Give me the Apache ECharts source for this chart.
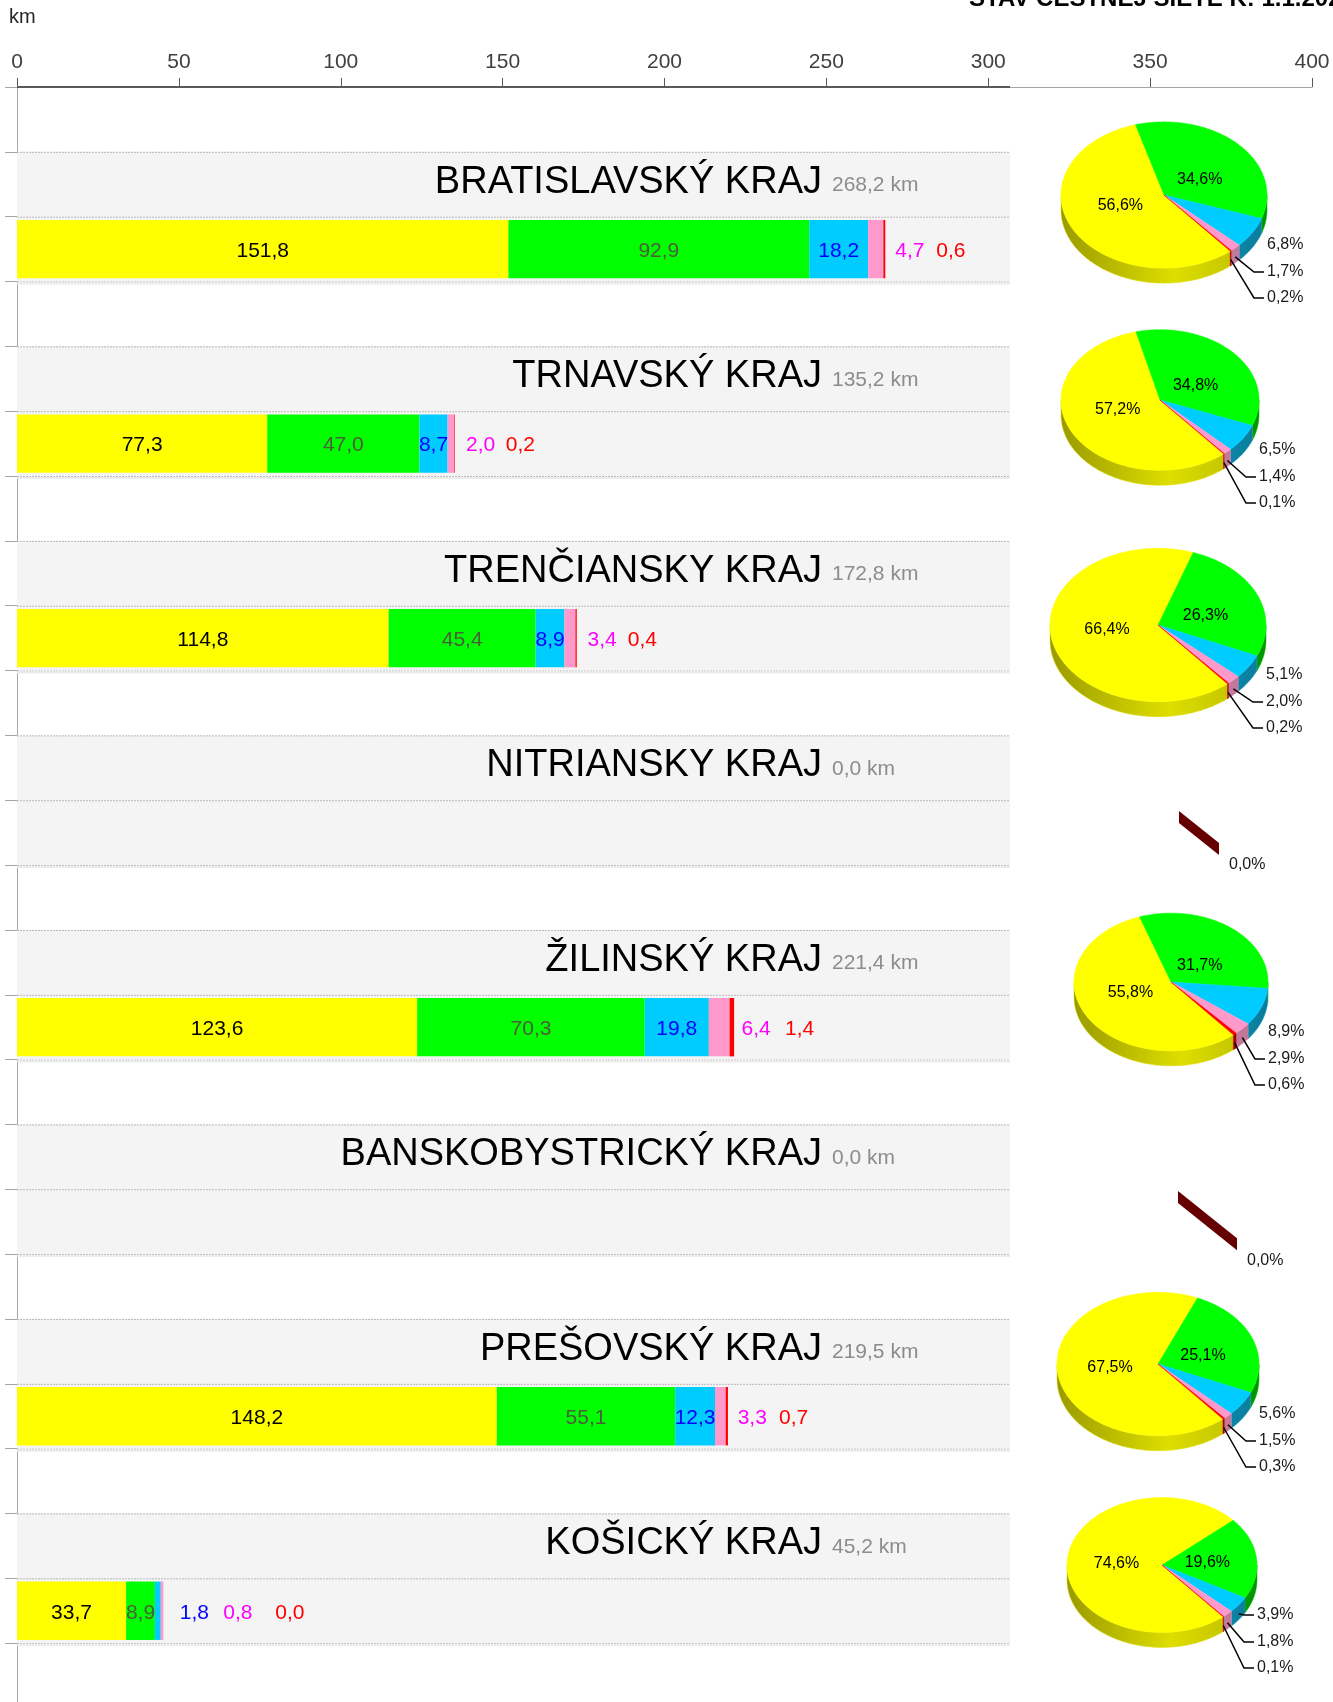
<!DOCTYPE html>
<html>
<head>
<meta charset="utf-8">
<title>Stav cestnej siete</title>
<script src="https://cdn.jsdelivr.net/npm/echarts@6/dist/echarts.min.js"></script>
<style>
html, body { margin: 0; padding: 0; background: #fff; }
#main { width: 1333px; height: 1702px; }
</style>
</head>
<body>
<div id="main"></div>
<script>
const FONT = "'Liberation Sans', Arial, sans-serif";

// --- data ---
const regions = ['BRATISLAVSKÝ KRAJ', 'TRNAVSKÝ KRAJ', 'TRENČIANSKY KRAJ', 'NITRIANSKY KRAJ',
  'ŽILINSKÝ KRAJ', 'BANSKOBYSTRICKÝ KRAJ', 'PREŠOVSKÝ KRAJ', 'KOŠICKÝ KRAJ'];
const totals = [268.2, 135.2, 172.8, 0.0, 221.4, 0.0, 219.5, 45.2];
const classes = ['výborný', 'dobrý', 'vyhovujúci', 'nevyhovujúci', 'havarijný'];

// km podla stavu
const vyborny      = [151.8, 77.3, 114.8, 0, 123.6, 0, 148.2, 33.7];
const dobry        = [92.9, 47.0, 45.4, 0, 70.3, 0, 55.1, 8.9];
const vyhovujuci   = [18.2, 8.7, 8.9, 0, 19.8, 0, 12.3, 1.8];
const nevyhovujuci = [4.7, 2.0, 3.4, 0, 6.4, 0, 3.3, 0.8];
const havarijny    = [0.6, 0.2, 0.4, 0, 1.4, 0, 0.7, 0.0];

// podiely v % (kolace)
const shareVyborny      = [56.6, 57.2, 66.4, 0, 55.8, 0, 67.5, 74.6];
const shareDobry        = [34.6, 34.8, 26.3, 0, 31.7, 0, 25.1, 19.6];
const shareVyhovujuci   = [6.8, 6.5, 5.1, 0, 8.9, 0, 5.6, 3.9];
const shareNevyhovujuci = [1.7, 1.4, 2.0, 0, 2.9, 0, 1.5, 1.8];
const shareHavarijny    = [0.2, 0.1, 0.2, 0, 0.6, 0, 0.3, 0.1];

const xTicks = [0, 50, 100, 150, 200, 250, 300, 350, 400];

// --- layout / styles ---
const barColors = ['#ffff00', '#00ff00', '#00ccff', '#ff99cc', '#ff0000'];
const labelColors = ['#000000', '#4d5d3a', '#0000ff', '#ff00ff', '#ff0000'];
const sideColors = [
  ['#9a9a00', '#dede00', '#b8b800'],
  ['#008400', '#00c400', '#009400'],
  ['#006a88', '#1296bb', '#0a7c9c'],
  ['#a05e7e', '#d88aae', '#b87090'],
  ['#7a0000', '#c00000', '#900000']
];
const pieBox = [[1164, 195, 103], [1160, 400, 99], [1158, 625, 108], [1179, 811, 40],
  [1171, 982, 97], [1178, 1191, 59], [1158, 1364, 101], [1162, 1565, 95]];
const PLOT_RIGHT = 1010;
const TITLE_RIGHT = 822;
const TILT = 0.71, DEPTH = 15, START = 50;
const SMALL_DY = [50, 77, 103];

const fmt = v => v.toFixed(1).replace('.', ',');
const classValues = [vyborny, dobry, vyhovujuci, nevyhovujuci, havarijny];
const classShares = [shareVyborny, shareDobry, shareVyhovujuci, shareNevyhovujuci, shareHavarijny];

// 3 riadky na kraj: medzera, nadpis, stlpec
const slots = [];
regions.forEach(r => { slots.push(r + ' ·'); slots.push(r); slots.push(r + ' km'); });
slots.push('·');

const bandData = [];
regions.forEach((r, i) => {
  bandData.push([0, i * 3 + 1, 0, i]);
  bandData.push([0, i * 3 + 2, 1, i]);
});

const barSeries = classValues.map((vals, k) => ({
  name: classes[k],
  type: 'bar',
  stack: 'km',
  barCategoryGap: '10%',
  z: 3,
  itemStyle: { color: barColors[k] },
  label: {
    show: true,
    position: k < 3 ? 'inside' : 'right',
    distance: k === 3 ? 12 : 51,
    offset: [0, 2],
    color: labelColors[k],
    fontSize: 21,
    fontFamily: FONT,
    formatter: p => fmt(p.value)
  },
  data: slots.map((s, idx) => {
    if (idx % 3 !== 2) return '-';
    const i = (idx - 2) / 3;
    const item = { value: vals[i] };
    if (totals[i] === 0) {
      item.label = { show: false };
    } else if (vyhovujuci[i] < 5 && k >= 2) {
      // uzky segment -> popisy mimo stlpca
      item.label = { position: 'right', distance: [19, 60, 112][k - 2] };
    }
    return item;
  })
}));

function arc(cx, cy, rx, ry, s, e) {
  const pts = [];
  const n = Math.max(1, Math.ceil(e - s));
  for (let t = 0; t <= n; t++) {
    const a = (s + (e - s) * t / n) * Math.PI / 180;
    pts.push([cx + rx * Math.cos(a), cy + ry * Math.sin(a)]);
  }
  return pts;
}

const pieSeries = {
  type: 'custom',
  coordinateSystem: 'none',
  silent: true,
  z: 5,
  data: regions.map((r, i) => [i]),
  renderItem(params, api) {
    const i = params.dataIndex;
    const [cx, cy, rx] = pieBox[i];
    const shares = classShares.map(a => a[i]);
    const sum = shares.reduce((s, v) => s + v, 0);
    const children = [];
    if (sum === 0) {
      const x1 = cx + rx, y1 = cy + rx * 0.8, t = 12;
      children.push({ type: 'polygon', shape: { points: [[cx, cy], [x1, y1], [x1, y1 + t], [cx, cy + t]] },
        style: { fill: '#660000' } });
      children.push({ type: 'text', style: { text: fmt(0) + '%', x: x1 + 10, y: y1 + 22,
        fill: '#1a1a1a', font: '16px ' + FONT, align: 'left', verticalAlign: 'middle' } });
      return { type: 'group', children };
    }
    const ry = rx * TILT;
    let a = START;
    const slices = shares.map((v, j) => { const s = a; a += v / sum * 360; return { j, s, e: a, m: (s + a) / 2 }; });
    // bocne steny
    slices.forEach(sl => {
      [[0, 180], [360, 540]].forEach(([lo, hi]) => {
        const s = Math.max(sl.s, lo), e = Math.min(sl.e, hi);
        if (e <= s) return;
        const top = arc(cx, cy, rx, ry, s, e);
        const bottom = top.map(p => [p[0], p[1] + DEPTH]).reverse();
        const sc = sideColors[sl.j];
        children.push({ type: 'polygon', shape: { points: top.concat(bottom) },
          style: { fill: { type: 'linear', x: cx - rx, y: 0, x2: cx + rx, y2: 0, global: true,
            colorStops: [{ offset: 0, color: sc[0] }, { offset: 0.55, color: sc[1] }, { offset: 1, color: sc[2] }] },
            stroke: sc[1], lineWidth: 0.5 } });
      });
    });
    // vrchne plochy
    slices.forEach(sl => {
      const pts = [[cx, cy]].concat(arc(cx, cy, rx, ry, sl.s, sl.e));
      children.push({ type: 'polygon', shape: { points: pts },
        style: { fill: barColors[sl.j], stroke: barColors[sl.j], lineWidth: 0.5 } });
    });
    // popisy
    slices.forEach(sl => {
      const txt = fmt(shares[sl.j]) + '%';
      const m = sl.m * Math.PI / 180;
      if (sl.j < 2) {
        children.push({ type: 'text', style: { text: txt,
          x: cx + 0.48 * rx * Math.cos(m), y: cy + 0.3 * ry * Math.sin(m),
          fill: '#000', font: '16px ' + FONT, align: 'center', verticalAlign: 'middle' } });
      } else {
        const tx = cx + rx, ty = cy + SMALL_DY[sl.j - 2];
        children.push({ type: 'text', style: { text: txt, x: tx, y: ty,
          fill: '#1a1a1a', font: '16px ' + FONT, align: 'left', verticalAlign: 'middle' } });
        if (sl.j > 2 || shares[sl.j] < 5) {
          const ax = cx + rx * Math.cos(m), ay = cy + ry * Math.sin(m) + DEPTH * 0.6;
          children.push({ type: 'polyline', shape: { points: [[ax, ay], [tx - 13, ty], [tx - 3, ty]] },
            style: { stroke: '#000', lineWidth: 1.5, fill: null } });
        }
      }
    });
    return { type: 'group', children };
  }
};

const bandSeries = {
  type: 'custom',
  silent: true,
  z: 1,
  encode: { x: 0, y: 1 },
  data: bandData,
  renderItem(params, api) {
    const slot = api.value(1), kind = api.value(2), r = api.value(3);
    const c = api.coord([0, slot]);
    const h = api.size([0, 1])[1];
    const x0 = c[0], top = c[1] - h / 2;
    const children = [
      { type: 'rect', shape: { x: x0, y: top, width: PLOT_RIGHT - x0, height: h }, style: { fill: '#f4f4f4' } },
      { type: 'line', shape: { x1: x0, y1: top + 0.5, x2: PLOT_RIGHT, y2: top + 0.5 },
        style: { stroke: '#b8b8b8', lineWidth: 1, lineDash: [2, 1] } }
    ];
    if (kind === 1) {
      children.push({ type: 'line', shape: { x1: x0, y1: top + h + 0.5, x2: PLOT_RIGHT, y2: top + h + 0.5 },
        style: { stroke: '#b8b8b8', lineWidth: 1, lineDash: [2, 1] } });
      children.push({ type: 'line', shape: { x1: x0, y1: top + h + 2, x2: PLOT_RIGHT, y2: top + h + 2 },
        style: { stroke: '#ececec', lineWidth: 2 } });
    } else {
      children.push({ type: 'text', style: { text: regions[r], x: TITLE_RIGHT, y: c[1] - 2,
        fill: '#000', font: '38px ' + FONT, align: 'right', verticalAlign: 'middle' } });
      children.push({ type: 'text', style: { text: fmt(totals[r]) + ' km', x: TITLE_RIGHT + 10, y: c[1] + 1,
        fill: '#8c8c8c', font: '21px ' + FONT, align: 'left', verticalAlign: 'middle' } });
    }
    return { type: 'group', children };
  }
};

const chart = echarts.init(document.getElementById('main'));
chart.setOption({
  animation: false,
  backgroundColor: '#fff',
  grid: { left: 17, top: 87, width: 1295, height: 1621, outerBoundsMode: 'none' },
  xAxis: {
    type: 'value',
    position: 'top',
    min: xTicks[0],
    max: xTicks[xTicks.length - 1],
    interval: xTicks[1] - xTicks[0],
    axisLine: { show: true, lineStyle: { color: '#a6a6a6' } },
    axisTick: { show: true, length: 9, lineStyle: { color: '#595959' } },
    axisLabel: { fontSize: 21, color: '#404040', margin: 14, fontFamily: FONT },
    splitLine: { show: false }
  },
  yAxis: {
    type: 'category',
    inverse: true,
    data: slots,
    axisLine: { show: true, lineStyle: { color: '#a6a6a6' } },
    axisTick: { show: true, length: 12, lineStyle: { color: '#a6a6a6' } },
    axisLabel: { show: false },
    splitLine: { show: false }
  },
  graphic: [
    { type: 'text', left: 9, top: 7, style: { text: 'km', font: '20px ' + FONT, fill: '#262626' } },
    { type: 'text', left: 969, top: -13, style: { text: 'STAV CESTNEJ SIETE K: 1.1.2024', font: 'bold 24px ' + FONT, fill: '#000' } },
    { type: 'line', z: 100, shape: { x1: 17, y1: 87, x2: PLOT_RIGHT, y2: 87 }, style: { stroke: '#595959', lineWidth: 2 } }
  ],
  series: [bandSeries].concat(barSeries, [pieSeries])
});
</script>
</body>
</html>
